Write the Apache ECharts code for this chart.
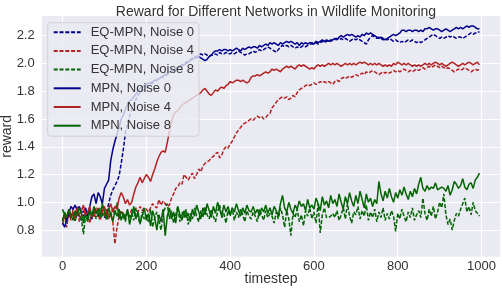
<!DOCTYPE html>
<html><head><meta charset="utf-8">
<script src="https://cdn.jsdelivr.net/npm/echarts@6/dist/echarts.min.js"></script>
<style>html,body{margin:0;padding:0;background:#fff}#c{width:502px;height:292px}</style>
</head><body><div id="c"></div>
<script>
// timesteps 0..995, every 5 steps (x grid of the recorded rewards)
const timesteps = Array.from({length: 200}, (_, i) => i * 5);

const eqNoise0 = [
0.87,0.90,0.86,0.91,0.89,0.93,0.88,0.92,0.90,0.87,
0.91,0.89,0.93,0.90,0.88,0.92,0.94,0.90,0.93,0.91,
0.89,0.92,0.99,1.05,1.09,1.12,1.15,1.19,1.28,1.38,
1.50,1.56,1.62,1.67,1.71,1.74,1.77,1.79,1.80,1.81,
1.82,1.84,1.85,1.86,1.87,1.88,1.89,1.90,1.90,1.91,
1.92,1.93,1.94,1.95,1.96,1.97,1.98,1.99,2.00,2.01,
2.02,2.03,2.04,2.05,2.05,2.06,2.07,2.06,2.07,2.06,
2.05,2.06,2.06,2.07,2.06,2.08,2.07,2.07,2.08,2.07,
2.07,2.08,2.07,2.08,2.09,2.08,2.07,2.06,2.07,2.07,
2.08,2.09,2.08,2.09,2.10,2.09,2.10,2.11,2.12,2.11,
2.10,2.09,2.08,2.10,2.12,2.13,2.12,2.13,2.12,2.13,
2.12,2.11,2.12,2.11,2.12,2.13,2.12,2.13,2.14,2.14,
2.14,2.15,2.14,2.15,2.16,2.15,2.16,2.17,2.16,2.17,
2.17,2.18,2.17,2.18,2.17,2.18,2.17,2.16,2.17,2.18,
2.17,2.18,2.17,2.16,2.15,2.14,2.17,2.19,2.20,2.19,
2.18,2.19,2.18,2.17,2.18,2.17,2.18,2.17,2.16,2.17,
2.16,2.15,2.16,2.15,2.16,2.17,2.16,2.17,2.16,2.15,
2.16,2.15,2.16,2.17,2.18,2.19,2.20,2.21,2.20,2.19,
2.18,2.19,2.18,2.19,2.20,2.19,2.20,2.19,2.18,2.19,
2.19,2.18,2.19,2.20,2.21,2.22,2.21,2.22,2.22,2.23];

const eqNoise4 = [
0.84,0.90,0.82,0.93,0.87,0.95,0.89,0.97,0.86,0.92,
0.88,0.94,0.90,0.85,0.93,0.89,0.96,0.91,0.87,0.93,
0.90,0.95,0.88,0.93,0.86,0.70,0.82,0.90,0.94,0.92,
0.88,0.93,0.90,0.95,0.92,0.96,0.93,0.97,0.94,0.96,
0.95,0.93,0.96,0.99,0.97,0.96,1.02,0.98,1.01,0.99,
0.97,0.98,1.03,1.06,1.10,1.11,1.14,1.13,1.20,1.18,
1.16,1.19,1.21,1.17,1.20,1.24,1.22,1.26,1.28,1.29,
1.30,1.32,1.33,1.35,1.36,1.32,1.34,1.38,1.40,1.39,
1.42,1.44,1.47,1.50,1.52,1.54,1.56,1.57,1.58,1.59,
1.60,1.59,1.61,1.62,1.61,1.62,1.60,1.61,1.63,1.64,
1.68,1.70,1.72,1.74,1.75,1.76,1.75,1.76,1.74,1.75,
1.77,1.76,1.79,1.81,1.82,1.83,1.84,1.85,1.84,1.85,
1.86,1.85,1.86,1.87,1.86,1.87,1.86,1.87,1.86,1.85,
1.87,1.88,1.87,1.89,1.90,1.89,1.90,1.91,1.90,1.91,
1.92,1.91,1.92,1.93,1.92,1.94,1.93,1.94,1.95,1.94,
1.93,1.92,1.93,1.94,1.93,1.94,1.93,1.94,1.95,1.94,
1.95,1.94,1.95,1.96,1.95,1.94,1.95,1.94,1.95,1.96,
1.95,1.96,1.97,1.96,1.97,1.98,1.97,1.98,1.99,1.98,
1.97,1.98,1.97,1.96,1.97,1.96,1.95,1.94,1.95,1.96,
1.95,1.96,1.97,1.96,1.95,1.94,1.95,1.96,1.95,1.96];

const eqNoise8 = [
0.95,0.90,0.87,0.93,0.89,0.92,0.86,0.94,0.90,0.88,
0.77,0.91,0.86,0.93,0.89,0.95,0.88,0.92,0.96,0.90,
0.94,0.87,0.92,0.89,0.96,0.91,1.00,0.88,0.93,0.90,
0.86,0.94,0.89,0.92,0.87,0.95,0.90,0.84,0.93,0.88,
0.91,0.86,0.95,0.82,0.89,0.93,0.87,0.80,0.92,0.96,
0.99,0.88,0.94,0.85,0.91,0.97,0.86,0.93,0.89,0.95,
0.84,0.92,0.88,0.96,0.90,0.86,0.94,0.89,0.97,0.91,
0.88,0.95,0.90,0.86,0.93,0.98,0.89,0.92,0.85,0.94,
0.90,0.96,0.87,0.93,0.89,0.95,0.91,0.86,0.94,0.90,
0.88,0.93,0.90,0.86,0.95,0.91,0.87,0.94,0.89,0.92,
0.90,0.85,0.93,0.88,0.96,0.91,0.82,0.94,0.88,0.76,
0.92,0.89,0.95,0.86,0.91,0.83,0.94,0.90,0.96,0.88,
0.93,0.85,0.99,0.78,0.91,0.96,0.89,0.89,0.90,0.92,
0.89,0.94,0.87,0.91,0.96,0.88,0.99,0.90,0.85,0.93,
0.91,0.97,0.88,0.94,0.90,0.98,0.87,0.93,0.89,0.95,
0.86,0.93,0.89,0.96,0.87,0.92,0.88,0.94,0.90,0.79,
0.92,0.88,0.95,0.90,0.86,0.93,0.89,0.96,0.87,0.91,
0.94,0.89,1.03,0.92,0.87,0.95,0.90,0.97,0.88,0.93,
1.00,0.96,1.06,0.91,0.84,0.88,0.80,0.87,0.92,0.90,
0.95,0.99,1.03,0.93,0.97,0.91,1.00,0.94,0.92,0.90];

const mpnNoise0 = [
0.85,0.82,0.88,0.92,0.97,0.95,0.98,0.94,0.97,0.93,
0.93,0.96,0.90,0.97,1.04,1.06,0.99,1.07,1.04,0.99,
1.10,1.13,1.16,1.30,1.38,1.44,1.49,1.54,1.60,1.63,
1.67,1.70,1.73,1.74,1.76,1.78,1.80,1.82,1.83,1.84,
1.85,1.86,1.86,1.87,1.88,1.88,1.89,1.90,1.91,1.92,
1.93,1.94,1.95,1.95,1.96,1.97,1.98,1.98,1.99,2.00,
2.01,2.02,2.03,2.04,2.04,2.05,2.04,2.03,2.02,2.03,
2.05,2.06,2.08,2.09,2.09,2.10,2.09,2.10,2.10,2.09,
2.10,2.09,2.10,2.11,2.10,2.09,2.11,2.10,2.11,2.12,
2.11,2.12,2.12,2.11,2.13,2.12,2.13,2.14,2.13,2.15,
2.14,2.15,2.14,2.13,2.15,2.14,2.15,2.16,2.15,2.16,
2.15,2.14,2.15,2.13,2.15,2.14,2.15,2.14,2.15,2.15,
2.14,2.16,2.15,2.16,2.17,2.16,2.17,2.16,2.17,2.17,
2.18,2.17,2.19,2.20,2.19,2.20,2.21,2.20,2.21,2.20,
2.19,2.20,2.19,2.21,2.20,2.22,2.21,2.22,2.21,2.20,
2.19,2.18,2.19,2.18,2.17,2.18,2.19,2.20,2.21,2.20,
2.21,2.22,2.24,2.24,2.23,2.24,2.24,2.23,2.24,2.24,
2.23,2.24,2.23,2.25,2.25,2.26,2.25,2.24,2.25,2.25,
2.24,2.23,2.24,2.25,2.24,2.23,2.24,2.25,2.26,2.25,
2.26,2.25,2.26,2.27,2.26,2.27,2.27,2.26,2.25,2.25];

const mpnNoise4 = [
0.87,0.92,0.89,0.95,0.90,0.93,0.88,0.96,0.91,0.94,
0.98,0.90,0.93,0.97,0.89,0.95,0.92,0.96,0.90,0.94,
0.97,0.91,0.95,0.99,0.93,0.97,0.95,1.03,1.07,1.04,
0.99,1.02,0.98,1.00,1.06,1.11,1.14,1.18,1.14,1.17,
1.20,1.18,1.15,1.20,1.24,1.29,1.33,1.36,1.37,1.36,
1.43,1.51,1.58,1.63,1.65,1.66,1.68,1.70,1.71,1.72,
1.73,1.74,1.75,1.76,1.77,1.78,1.79,1.81,1.82,1.80,
1.78,1.77,1.79,1.81,1.80,1.82,1.83,1.82,1.84,1.85,
1.87,1.86,1.87,1.88,1.88,1.87,1.88,1.87,1.86,1.87,
1.90,1.91,1.91,1.92,1.91,1.92,1.93,1.94,1.93,1.94,
1.96,1.95,1.96,1.95,1.94,1.96,1.97,1.98,1.97,1.98,
1.97,1.96,1.98,1.99,1.98,1.99,1.98,1.97,1.96,1.97,
1.96,1.98,1.99,1.98,1.99,1.98,1.99,2.00,1.99,2.00,
1.99,2.00,1.99,1.98,1.99,2.00,1.99,2.00,1.99,2.00,
1.99,2.00,2.01,2.00,2.01,2.00,1.99,2.00,1.99,2.00,
1.99,2.00,1.99,1.98,1.99,1.98,1.99,1.98,2.00,1.99,
2.01,2.00,1.99,2.00,1.99,2.00,1.99,1.98,1.99,1.98,
1.99,1.98,1.99,2.00,1.99,2.00,1.99,2.00,2.01,2.00,
1.99,2.00,1.99,1.98,1.99,2.00,2.01,2.00,1.99,1.98,
1.99,2.00,1.99,2.00,2.01,2.00,1.99,2.00,2.01,1.99];

const mpnNoise8 = [
0.86,0.93,0.89,0.95,0.91,0.87,0.94,0.90,0.96,0.92,
0.85,0.91,0.88,0.94,0.90,0.97,0.92,0.95,0.89,0.99,
0.93,0.88,0.96,0.91,0.86,0.94,0.90,0.95,0.87,0.92,
0.89,0.95,0.84,0.91,0.97,0.88,0.93,0.85,0.90,0.96,
0.87,0.92,0.83,0.94,0.89,0.80,0.91,0.86,0.95,0.76,
0.90,0.96,0.88,0.93,0.85,0.97,0.91,0.87,0.94,0.89,
0.92,0.86,0.95,0.90,0.98,0.93,0.88,0.96,0.91,0.99,
0.94,0.89,0.97,0.92,1.00,0.95,0.90,0.98,0.93,0.97,
0.91,0.96,0.93,0.99,0.94,0.90,0.96,0.92,0.98,0.94,
0.93,0.97,0.92,0.95,0.90,0.96,0.93,0.98,0.92,0.96,
0.91,0.97,0.94,0.90,0.99,1.05,0.96,0.93,1.00,0.95,
0.92,0.98,0.95,1.01,0.97,0.99,0.94,1.02,0.96,0.98,
0.95,1.03,0.99,0.94,1.04,0.98,1.01,0.96,1.05,0.99,
1.02,0.97,1.06,1.00,0.95,1.04,0.99,1.07,1.01,0.97,
1.05,0.99,1.08,1.02,0.96,1.06,1.00,1.03,0.97,1.02,
0.99,1.15,1.06,1.01,1.08,1.03,1.10,1.04,1.00,1.07,
1.03,1.09,1.05,1.11,1.06,1.02,1.08,1.04,1.10,1.06,
1.13,1.18,1.10,1.08,1.12,1.09,1.11,1.10,1.14,1.09,
1.10,1.11,1.10,1.08,1.12,1.05,1.09,1.15,1.13,1.10,
1.12,1.17,1.11,1.09,1.13,1.14,1.10,1.16,1.18,1.21];

const seriesNames = ['EQ-MPN, Noise 0','EQ-MPN, Noise 4','EQ-MPN, Noise 8','MPN, Noise 0','MPN, Noise 4','MPN, Noise 8'];
const seriesValues = [eqNoise0, eqNoise4, eqNoise8, mpnNoise0, mpnNoise4, mpnNoise8];
const xTicks = [0, 200, 400, 600, 800, 1000];
const yTicks = [0.8, 1.0, 1.2, 1.4, 1.6, 1.8, 2.0, 2.2];

const colors = ['#00008B', '#B22222', '#006400', '#00008B', '#B22222', '#006400'];
const FONT = "'Liberation Sans', Arial, sans-serif";
const TXT = '#333333';

const chart = echarts.init(document.getElementById('c'), null, {renderer: 'canvas'});
chart.setOption({
  animation: false,
  backgroundColor: '#ffffff',
  title: {
    text: 'Reward for Different Networks in Wildlife Monitoring',
    left: 271, textAlign: 'center', top: 0,
    textStyle: {fontFamily: FONT, fontSize: 14, fontWeight: 'normal', color: TXT}
  },
  grid: {left: 41.7, right: 1.7, top: 16, bottom: 35.3, show: true, backgroundColor: '#EAEAF2', borderWidth: 0,
    containLabel: false, outerBoundsMode: 'none'},
  legend: {
    data: seriesNames,
    orient: 'vertical',
    left: 47.7, top: 22.7,
    itemWidth: 27, itemHeight: 14, itemGap: 5.7,
    padding: [3, 5, 4, 5],
    backgroundColor: 'rgba(234,234,242,0.8)',
    borderColor: 'rgba(204,204,204,0.8)', borderWidth: 1, borderRadius: 3,
    textStyle: {fontFamily: FONT, fontSize: 13, color: TXT, padding: [0, 0, 0, 5]},
    itemStyle: {opacity: 0}
  },
  xAxis: {
    type: 'value', min: -49.75, max: 1044.75, minInterval: 200, maxInterval: 200,
    name: 'timestep', nameLocation: 'middle', nameGap: 15, nameMoveOverlap: false,
    nameTextStyle: {fontFamily: FONT, fontSize: 14, color: TXT},
    axisLine: {show: false}, axisTick: {show: false},
    axisLabel: {fontFamily: FONT, fontSize: 13, color: TXT, margin: 3, showMinLabel: false, showMaxLabel: false,
      formatter: v => xTicks.includes(v) ? String(v) : ''},
    splitLine: {show: true, showMinLine: false, showMaxLine: false, lineStyle: {color: '#ffffff', width: 1.2}}
  },
  yAxis: {
    type: 'value', min: 0.608, max: 2.342, minInterval: 0.2, maxInterval: 0.2,
    name: 'reward', nameLocation: 'middle', nameGap: 28, nameMoveOverlap: false,
    nameTextStyle: {fontFamily: FONT, fontSize: 14, color: TXT},
    axisLine: {show: false}, axisTick: {show: false},
    axisLabel: {fontFamily: FONT, fontSize: 13, color: TXT, margin: 7, showMinLabel: false, showMaxLabel: false,
      formatter: v => { const t = yTicks.find(k => Math.abs(k - v) < 1e-6); return t === undefined ? '' : t.toFixed(1); }},
    splitLine: {show: true, showMinLine: false, showMaxLine: false, lineStyle: {color: '#ffffff', width: 1.2}}
  },
  series: seriesNames.map((name, i) => ({
    name, type: 'line', symbol: 'none', showSymbol: false,
    color: colors[i],
    data: timesteps.map((t, j) => [t, seriesValues[i][j]]),
    lineStyle: {width: 1.5, color: colors[i], type: i < 3 ? [4, 1.8] : 'solid'},
    z: i < 3 ? 2 : 3
  }))
});
</script></body></html>
